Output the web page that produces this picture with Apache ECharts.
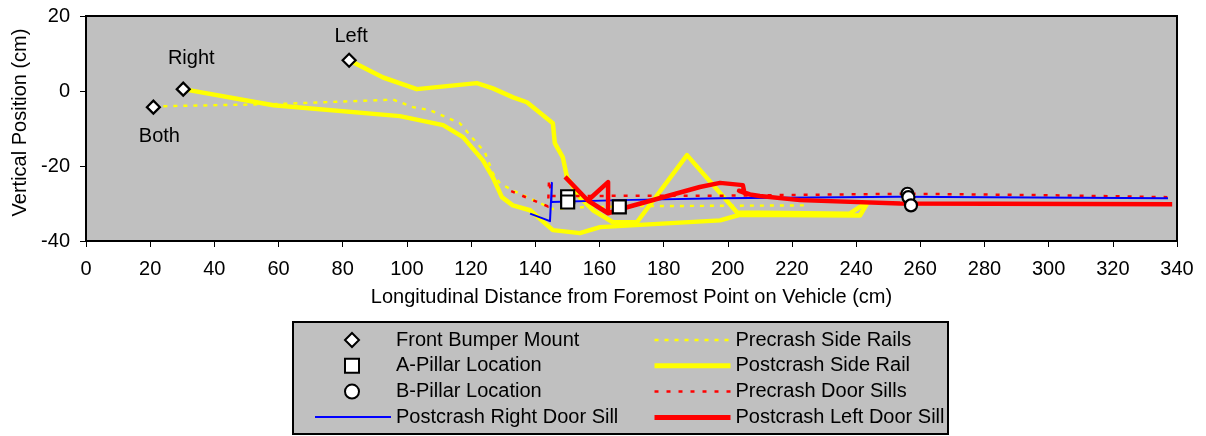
<!DOCTYPE html>
<html>
<head>
<meta charset="utf-8">
<script src="https://cdn.jsdelivr.net/npm/echarts@6/dist/echarts.min.js"></script>
<style>
  html, body { margin: 0; padding: 0; background: #ffffff; }
  #chart { width: 1206px; height: 436px; }
</style>
</head>
<body>
<div id="chart"></div>
<script>
// Axis ranges (cm)
const xRange = [0, 340];
const xStep = 20;
const yRange = [-40, 20];
const yStep = 20;

// Marker locations [longitudinal, vertical]
const bumperMount = [[21.0, -4.3], [30.3, 0.5], [82.0, 8.2]];
const bumperLabels = ['Both', 'Right', 'Left'];
const aPillar = [[150.1, -28.2], [150.1, -29.6], [166.2, -30.9]];
const bPillar = [[256.0, -27.4], [256.3, -28.3], [257.1, -30.5]];

// Side rails
const precrashSideRails = [
  [21.0, -4.1], [58.3, -3.5], [95.7, -2.3], [101.9, -4.3], [107.2, -5.1],
  [116.5, -8.6], [121.8, -13.9], [124.3, -16.3], [126.8, -21.9], [129.0, -24.6],
  [133.0, -26.5], [145.5, -31.5], [154.6, -31.0], [172.6, -30.7], [225.6, -30.5]
];
const postcrashRightRail = [
  [30.3, 0.5], [58.4, -3.8], [97.8, -6.7], [111.3, -9.1], [117.5, -12.3],
  [123.7, -18.5], [126.8, -23.0], [129.6, -28.3], [133.0, -30.5], [138.4, -31.8],
  [145.5, -37.1], [153.9, -37.9], [160.2, -36.3], [197.6, -34.5], [203.8, -33.0],
  [241.2, -33.2], [243.4, -30.0]
];
const postcrashLeftRail = [
  [82.0, 8.2], [92.6, 3.6], [103.1, 0.5], [121.8, 2.1], [126.8, 0.7],
  [133.1, -1.7], [137.4, -3.0], [145.5, -8.6], [146.1, -13.9], [148.6, -17.7],
  [149.9, -23.0], [153.9, -28.3], [158.0, -31.8], [164.2, -35.0], [171.7, -35.0],
  [187.3, -17.1], [202.9, -32.4], [238.0, -32.7], [243.4, -29.6]
];

// Door sills
const precrashDoorSills = [
  [132.5, -26.7], [144.0, -30.8], [144.3, -23.6], [145.0, -28.0],
  [200.0, -27.9], [256.0, -27.4], [300.0, -27.8], [337.0, -28.3]
];
const postcrashRightSill = [
  [138.4, -32.7], [144.6, -34.7], [145.2, -24.5], [145.0, -29.6],
  [166.4, -29.1], [197.6, -28.6], [253.7, -28.2], [337.2, -28.6]
];
const postcrashLeftSill = [
  [149.3, -22.9], [156.4, -29.2], [162.7, -24.3], [162.7, -32.6], [156.4, -29.2],
  [162.7, -32.6], [168.6, -31.0], [191.3, -25.6], [197.6, -24.5], [204.7, -25.1],
  [205.2, -27.2], [203.5, -26.6], [206.9, -27.6], [210.0, -28.0], [222.5, -29.1],
  [253.7, -30.0], [338.5, -30.2]
];

const FONT = '"Liberation Sans", Arial, sans-serif';
const FS = 20;
const YELLOW = '#ffff00';
const RED = '#ff0000';
const BLUE = '#0000ff';

// Where each bumper label sits relative to its marker
const labelPlacement = {
  Both:  { position: 'bottom', offset: [6, 7] },
  Right: { position: 'top', offset: [8, -8] },
  Left:  { position: 'top', offset: [2, -1] }
};

const bumperData = bumperMount.map((p, i) => ({
  value: p,
  label: Object.assign({ show: true, formatter: bumperLabels[i] }, labelPlacement[bumperLabels[i]])
}));

function lineSeries(name, data, color, width, type, z) {
  return {
    name: name, type: 'line', data: data, symbol: 'none', showSymbol: false,
    lineStyle: { color: color, width: width, type: type, cap: 'butt', join: 'round' },
    itemStyle: { color: color },
    z: z, animation: false, silent: true
  };
}

function markerSeries(name, data, symbol, size) {
  return {
    name: name, type: 'scatter', data: data, symbol: symbol, symbolSize: size,
    itemStyle: { color: '#ffffff', borderColor: '#000000', borderWidth: 2.2, opacity: 1 },
    label: { color: '#000', fontSize: FS, fontFamily: FONT },
    z: 10, animation: false, silent: true
  };
}

// Legend entry for a line series: stroke only, no point symbol
function lineKey(name, width, type) {
  return {
    name: name,
    itemStyle: { color: 'rgba(0,0,0,0)', borderWidth: 0, opacity: 0 },
    lineStyle: { width: width, type: type, cap: 'butt' }
  };
}

const chart = echarts.init(document.getElementById('chart'), null, { renderer: 'canvas' });

const legendText = { fontSize: FS, fontFamily: FONT, color: '#000', lineHeight: 20 };

chart.setOption({
  backgroundColor: '#ffffff',
  animation: false,
  textStyle: { fontFamily: FONT },
  grid: {
    left: 86, right: 29, top: 16, bottom: 195,
    show: true, backgroundColor: '#c0c0c0', borderColor: '#000000', borderWidth: 2
  },
  xAxis: {
    type: 'value', min: xRange[0], max: xRange[1], interval: xStep,
    name: 'Longitudinal Distance from Foremost Point on Vehicle (cm)',
    nameLocation: 'middle', nameGap: 46,
    nameTextStyle: { fontSize: FS, color: '#000', fontFamily: FONT },
    axisLine: { show: true, onZero: false, lineStyle: { color: '#000', width: 2 } },
    axisTick: { show: true, inside: false, length: 6, lineStyle: { color: '#000', width: 1 } },
    axisLabel: { fontSize: FS, color: '#000', margin: 18, fontFamily: FONT },
    splitLine: { show: false }
  },
  yAxis: {
    type: 'value', min: yRange[0], max: yRange[1], interval: yStep,
    name: 'Vertical Position (cm)',
    nameLocation: 'middle', nameGap: 53, nameRotate: 90,
    nameTextStyle: { fontSize: FS, color: '#000', fontFamily: FONT, padding: [0, 0, 0, 12] },
    axisLine: { show: true, onZero: false, lineStyle: { color: '#000', width: 2 } },
    axisTick: { show: true, inside: false, length: 6, lineStyle: { color: '#000', width: 1 } },
    axisLabel: { fontSize: FS, color: '#000', margin: 16, fontFamily: FONT },
    splitLine: { show: false }
  },
  graphic: [{
    type: 'rect', z: -1,
    shape: { x: 293, y: 322, width: 655, height: 112 },
    style: { fill: '#c0c0c0', stroke: '#000000', lineWidth: 2 }
  }],
  legend: [
    {
      orient: 'vertical', left: 344, top: 330, padding: 0,
      itemWidth: 14, itemHeight: 14, itemGap: 5.8,
      selectedMode: false, textStyle: Object.assign({ padding: [0, 0, 0, 32] }, legendText),
      data: [
        { name: 'Front Bumper Mount', icon: 'diamond' },
        { name: 'A-Pillar Location', icon: 'rect' },
        { name: 'B-Pillar Location', icon: 'circle' }
      ]
    },
    {
      orient: 'vertical', left: 314, top: 407, padding: 0,
      itemWidth: 76, itemHeight: 14, itemGap: 5.8,
      selectedMode: false, textStyle: legendText,
      data: [lineKey('Postcrash Right Door Sill', 2, 'solid')]
    },
    {
      orient: 'vertical', left: 652, top: 330, padding: 0,
      itemWidth: 76, itemHeight: 14, itemGap: 5.8,
      selectedMode: false, textStyle: legendText,
      data: [
        lineKey('Precrash Side Rails', 2.5, [4, 6]),
        lineKey('Postcrash Side Rail', 5, 'solid'),
        lineKey('Precrash Door Sills', 2.5, [4, 8]),
        lineKey('Postcrash Left Door Sill', 5, 'solid')
      ]
    }
  ],
  series: [
    lineSeries('Precrash Side Rails', precrashSideRails, YELLOW, 2.4, [4, 6], 2),
    lineSeries('Postcrash Side Rail', postcrashRightRail, YELLOW, 4.5, 'solid', 3),
    lineSeries('Postcrash Side Rail', postcrashLeftRail, YELLOW, 4.5, 'solid', 3),
    lineSeries('Precrash Door Sills', precrashDoorSills, RED, 2.5, [4, 8], 4),
    lineSeries('Postcrash Right Door Sill', postcrashRightSill, BLUE, 2, 'solid', 5),
    lineSeries('Postcrash Left Door Sill', postcrashLeftSill, RED, 4.5, 'solid', 6),
    markerSeries('Front Bumper Mount', bumperData, 'diamond', 13),
    markerSeries('A-Pillar Location', aPillar, 'rect', 13),
    markerSeries('B-Pillar Location', bPillar, 'circle', 12)
  ]
});
</script>
</body>
</html>
